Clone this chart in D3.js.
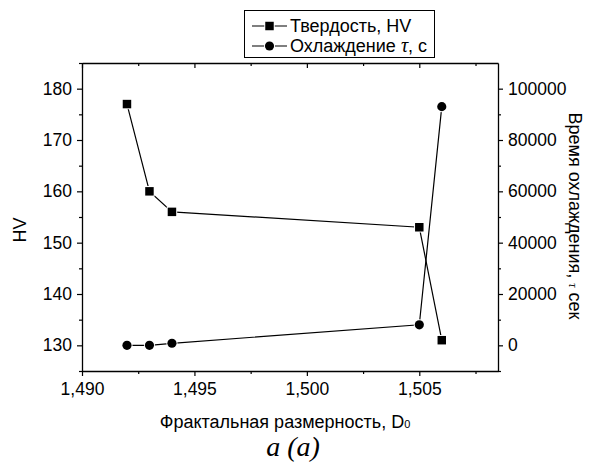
<!DOCTYPE html>
<html><head><meta charset="utf-8">
<script src="https://cdn.jsdelivr.net/npm/d3@7"></script>
<style>body{margin:0;background:#fff}svg{display:block}text{font-family:"Liberation Sans",Arial,sans-serif;fill:#000}</style>
</head><body><svg id="c" width="594" height="464"></svg>
<script>
const xValues = [1.492, 1.493, 1.494, 1.505, 1.506];
const hardness = [177, 160, 156, 153, 131];
const cooling = [0, 0, 800, 8000, 93000];
const xTicks = [1.490, 1.495, 1.500, 1.505];
const xMinor = [1.4925, 1.4975, 1.5025, 1.5075];
const leftTicks = [130, 140, 150, 160, 170, 180];
const leftMinor = [125, 135, 145, 155, 165, 175, 185];
const rightTicks = [0, 20000, 40000, 60000, 80000, 100000];
const rightMinor = [-10000, 10000, 30000, 50000, 70000, 90000];

const svg = d3.select("#c");
const L = 82, R = 498, T = 63, B = 371;
const x = d3.scaleLinear().domain([1.490, 1.5085]).range([L, R]);
const yL = d3.scaleLinear().domain([125, 185]).range([B, T]);
const yR = d3.scaleLinear().domain([-10000, 110000]).range([B, T]);
const fmtX = d => d3.format(".3f")(d).replace(".", ",");
const fs = "17.5px";

function styleAxis(g){
  g.selectAll("path").attr("stroke","#000").attr("stroke-width",1.3);
  g.selectAll("line").attr("stroke","#000").attr("stroke-width",1.2);
  g.selectAll("text").style("font-size",fs).style("font-family","Liberation Sans, Arial, sans-serif");
}
// bottom
const gb = svg.append("g").attr("transform",`translate(0,${B})`)
  .call(d3.axisBottom(x).tickValues(xTicks).tickFormat(fmtX).tickSize(5).tickPadding(7).tickSizeOuter(0));
styleAxis(gb);
svg.append("g").attr("transform",`translate(0,${B})`)
  .call(d3.axisBottom(x).tickValues(xMinor).tickFormat("").tickSize(3).tickSizeOuter(0))
  .call(g=>{g.select("path").remove();styleAxis(g);});
// top
const gt = svg.append("g").attr("transform",`translate(0,${T})`)
  .call(d3.axisBottom(x).tickValues(xTicks).tickFormat("").tickSize(5).tickSizeOuter(0));
styleAxis(gt);
svg.append("g").attr("transform",`translate(0,${T})`)
  .call(d3.axisBottom(x).tickValues(xMinor).tickFormat("").tickSize(3).tickSizeOuter(0))
  .call(g=>{g.select("path").remove();styleAxis(g);});
// left
const gl = svg.append("g").attr("transform",`translate(${L},0)`)
  .call(d3.axisLeft(yL).tickValues(leftTicks).tickFormat(d3.format("d")).tickSize(5).tickPadding(5).tickSizeOuter(0));
styleAxis(gl);
svg.append("g").attr("transform",`translate(${L},0)`)
  .call(d3.axisLeft(yL).tickValues(leftMinor).tickFormat("").tickSize(3).tickSizeOuter(0))
  .call(g=>{g.select("path").remove();styleAxis(g);});
// right
const gr = svg.append("g").attr("transform",`translate(${R},0)`)
  .call(d3.axisRight(yR).tickValues(rightTicks).tickFormat(d3.format("d")).tickSize(5).tickPadding(5).tickSizeOuter(0));
styleAxis(gr);
svg.append("g").attr("transform",`translate(${R},0)`)
  .call(d3.axisRight(yR).tickValues(rightMinor).tickFormat("").tickSize(3).tickSizeOuter(0))
  .call(g=>{g.select("path").remove();styleAxis(g);});

// series
const lineH = d3.line().x((d,i)=>x(xValues[i])).y(d=>yL(d));
const lineC = d3.line().x((d,i)=>x(xValues[i])).y(d=>yR(d));
svg.append("path").attr("d",lineH(hardness)).attr("fill","none").attr("stroke","#000").attr("stroke-width",1.2);
svg.append("path").attr("d",lineC(cooling)).attr("fill","none").attr("stroke","#000").attr("stroke-width",1.2);
const sq = d3.symbol().type(d3.symbolSquare).size(72);
const ci = d3.symbol().type(d3.symbolCircle).size(66);
svg.append("g").selectAll("path").data(hardness).join("path")
  .attr("d",sq).attr("transform",(d,i)=>`translate(${x(xValues[i])},${yL(d)})`)
  .attr("fill","#000").attr("stroke","#fff").attr("stroke-width",2).attr("paint-order","stroke");
svg.append("g").selectAll("path").data(cooling).join("path")
  .attr("d",ci).attr("transform",(d,i)=>`translate(${x(xValues[i])},${yR(d)})`)
  .attr("fill","#000").attr("stroke","#fff").attr("stroke-width",2).attr("paint-order","stroke");

// axis titles
svg.append("text").attr("transform","translate(20,230) rotate(-90)").attr("text-anchor","middle")
  .attr("dy","0.35em").style("font-size","18px").text("HV");
const rt = svg.append("text").attr("transform","translate(575,216) rotate(90)").attr("text-anchor","middle")
  .attr("dy","0.35em").style("font-size","18px");
rt.append("tspan").text("Время охлаждения, ");
rt.append("tspan").style("font-family","Liberation Serif, serif").style("font-style","italic").style("font-size","12px").text("τ");
rt.append("tspan").text(" сек");

const xt = svg.append("text").attr("x",285).attr("y",428).attr("text-anchor","middle").style("font-size","18px");
xt.append("tspan").text("Фрактальная размерность, D");
xt.append("tspan").style("font-size","11px").text("0");

svg.append("text").attr("x",293).attr("y",456).attr("text-anchor","middle")
  .style("font-family","Liberation Serif, Times New Roman, serif").style("font-style","italic").style("font-size","28px")
  .text("a (a)");

// legend
const lg = svg.append("g");
lg.append("rect").attr("x",244.5).attr("y",10.5).attr("width",190).attr("height",47)
  .attr("fill","#fff").attr("stroke","#000").attr("stroke-width",1);
const rows = [{y:26, sym:sq},{y:46, sym:ci}];
rows.forEach(r=>{
  lg.append("line").attr("x1",252).attr("x2",287).attr("y1",r.y).attr("y2",r.y).attr("stroke","#000").attr("stroke-width",1.2);
  lg.append("path").attr("d",r.sym).attr("transform",`translate(269.5,${r.y})`)
    .attr("fill","#000").attr("stroke","#fff").attr("stroke-width",2).attr("paint-order","stroke");
});
lg.append("text").attr("x",290).attr("y",26).attr("dy","0.35em").style("font-size","18px").text("Твердость, HV");
const l2 = lg.append("text").attr("x",290).attr("y",46).attr("dy","0.35em").style("font-size","18px");
l2.append("tspan").text("Охлаждение ");
l2.append("tspan").style("font-family","Liberation Serif, serif").style("font-style","italic").style("font-size","20px").text("τ");
l2.append("tspan").text(", с");
</script></body></html>
